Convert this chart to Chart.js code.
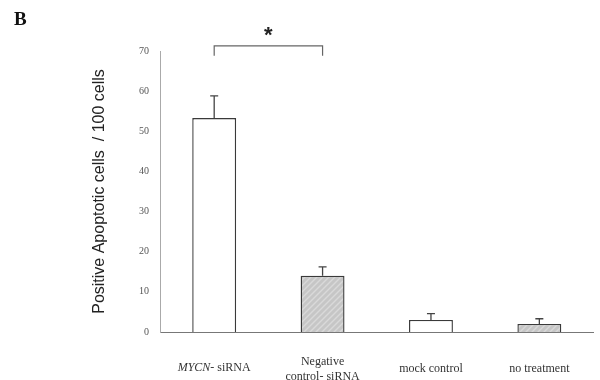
<!DOCTYPE html>
<html>
<head>
<meta charset="utf-8">
<script src="https://cdn.jsdelivr.net/npm/chart.js@4"></script>
<style>
  html, body { margin: 0; padding: 0; background: #ffffff; }
  #wrap { width: 600px; height: 380px; position: relative; }
</style>
</head>
<body>
<div id="wrap"><canvas id="c" width="600" height="380"></canvas></div>
<script>
// ---- data ----
const categories = [["MYCN- siRNA"], ["Negative", "control- siRNA"], ["mock control"], ["no treatment"]];
const values = [53.3, 14.0, 3.0, 2.0];
const errors = [5.5, 2.2, 1.6, 1.3];
const hatched = [false, true, false, true];
const yTicks = [0, 10, 20, 30, 40, 50, 60, 70];
const bracketFrom = 0, bracketTo = 1;
const bracketTop = 71.3, bracketEnd = 68.8;
const sigMark = "*";

function makeHatch() {
  const s = 6;
  const c = document.createElement('canvas');
  c.width = s; c.height = s;
  const g = c.getContext('2d');
  g.fillStyle = '#c6c6c6';
  g.fillRect(0, 0, s, s);
  g.strokeStyle = '#d9d9d9';
  g.lineWidth = 1.4;
  g.beginPath();
  g.moveTo(0, s); g.lineTo(s, 0);
  g.moveTo(-s/2, s/2); g.lineTo(s/2, -s/2);
  g.moveTo(s/2, s + s/2); g.lineTo(s + s/2, s/2);
  g.stroke();
  return g.createPattern(c, 'repeat');
}

const ctx = document.getElementById('c').getContext('2d');
const hatch = makeHatch();

const extras = {
  id: 'extras',
  afterDatasetsDraw(chart) {
    const g = chart.ctx;
    const xs = chart.scales.x, ys = chart.scales.y;
    const meta = chart.getDatasetMeta(0);
    g.save();
    // error bars (upper only)
    g.strokeStyle = '#444';
    g.lineWidth = 1.3;
    values.forEach((v, i) => {
      const x = meta.data[i].x;
      const y0 = ys.getPixelForValue(v);
      const y1 = ys.getPixelForValue(v + errors[i]);
      g.beginPath();
      g.moveTo(x, y0); g.lineTo(x, y1);
      g.moveTo(x - 4, y1); g.lineTo(x + 4, y1);
      g.stroke();
    });
    // significance bracket
    const xa = xs.getPixelForValue(bracketFrom), xb = xs.getPixelForValue(bracketTo);
    const yt = ys.getPixelForValue(bracketTop), ye = ys.getPixelForValue(bracketEnd);
    g.strokeStyle = '#666';
    g.lineWidth = 1.2;
    g.beginPath();
    g.moveTo(xa, ye); g.lineTo(xa, yt); g.lineTo(xb, yt); g.lineTo(xb, ye);
    g.stroke();
    g.fillStyle = '#222';
    g.font = 'bold 22px "Liberation Sans", Arial, sans-serif';
    g.textAlign = 'center';
    g.textBaseline = 'middle';
    g.fillText(sigMark, (xa + xb) / 2, yt - 10);
    // italic gene name for first category
    const lx = xs.getPixelForValue(0);
    const ly = 368;
    const part1 = 'MYCN', part2 = '- siRNA';
    g.font = 'italic 12px "Liberation Serif", "Times New Roman", serif';
    const w1 = g.measureText(part1).width;
    g.font = '12px "Liberation Serif", "Times New Roman", serif';
    const w2 = g.measureText(part2).width;
    const start = lx - (w1 + w2) / 2;
    g.textAlign = 'left';
    g.fillStyle = '#333';
    g.font = 'italic 12px "Liberation Serif", "Times New Roman", serif';
    g.fillText(part1, start, ly);
    g.font = '12px "Liberation Serif", "Times New Roman", serif';
    g.fillText(part2, start + w1, ly);
    // panel label
    g.font = 'bold 19px "Liberation Serif", "Times New Roman", serif';
    g.fillStyle = '#111';
    g.fillText('B', 14, 20);
    g.restore();
  }
};

new Chart(ctx, {
  type: 'bar',
  data: {
    labels: categories,
    datasets: [{
      data: values,
      backgroundColor: hatched.map(h => h ? hatch : '#ffffff'),
      borderColor: '#3a3a3a',
      borderWidth: 1.4,
      borderSkipped: 'bottom',
      categoryPercentage: 1.0,
      barPercentage: 0.405
    }]
  },
  options: {
    responsive: false,
    animation: false,
    devicePixelRatio: 1,
    layout: { padding: { left: 90, right: 4, top: 51, bottom: 0 } },
    plugins: { legend: { display: false }, tooltip: { enabled: false } },
    scales: {
      x: {
        grid: { display: false, drawTicks: false },
        border: { display: true, color: '#777', width: 1 },
        ticks: {
          color: '#333',
          font: { family: '"Liberation Serif", "Times New Roman", serif', size: 12 },
          padding: 30,
          crossAlign: 'center',
          maxRotation: 0,
          autoSkip: false,
          callback: function(v, i) { return i === 0 ? '' : categories[i]; }
        },
        afterFit(scale) { scale.height = 48; }
      },
      y: {
        min: 0, max: 70,
        afterBuildTicks(scale) { scale.ticks = yTicks.map(v => ({ value: v })); },
        grid: { display: false, drawTicks: false },
        border: { display: true, color: '#aaa', width: 1, dash: [2, 2] },
        ticks: {
          color: '#555',
          font: { family: '"Liberation Serif", "Times New Roman", serif', size: 10 },
          padding: 11
        },
        title: {
          display: true,
          text: 'Positive Apoptotic cells  / 100 cells',
          color: '#222',
          font: { family: '"Liberation Sans", Arial, sans-serif', size: 16 },
          padding: 0
        },
        afterFit(scale) { scale.width = 70; }
      }
    }
  },
  plugins: [extras]
});
</script>
</body>
</html>
